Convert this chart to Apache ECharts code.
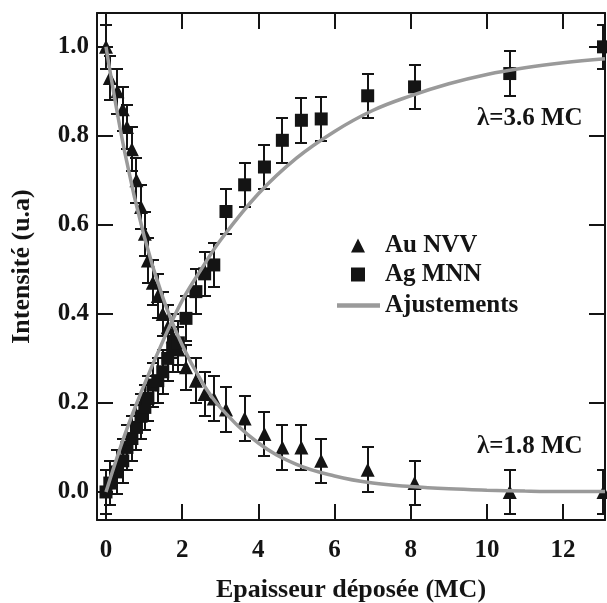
<!DOCTYPE html>
<html>
<head>
<meta charset="utf-8">
<script src="https://cdn.jsdelivr.net/npm/echarts@6/dist/echarts.min.js"></script>
<style>
html,body{margin:0;padding:0;background:#fff;}
#chart{width:607px;height:603px;}
</style>
</head>
<body>
<div id="chart"></div>
<script>
// Deposited thickness (MC)
var thickness = [0.00, 0.10, 0.30, 0.44, 0.55, 0.68, 0.80, 0.92, 1.02, 1.10, 1.23, 1.36, 1.49, 1.62, 1.75, 1.90, 2.10, 2.36, 2.59, 2.83, 3.15, 3.64, 4.16, 4.63, 5.13, 5.65, 6.87, 8.10, 10.60, 13.06];
var auNVV = [1.00, 0.93, 0.90, 0.86, 0.82, 0.77, 0.70, 0.64, 0.58, 0.52, 0.47, 0.44, 0.40, 0.37, 0.35, 0.32, 0.28, 0.25, 0.22, 0.21, 0.185, 0.165, 0.13, 0.10, 0.10, 0.07, 0.05, 0.02, 0.00, 0.00];
var auErr = [0.05, 0.05, 0.05, 0.05, 0.05, 0.05, 0.05, 0.05, 0.05, 0.05, 0.05, 0.05, 0.05, 0.05, 0.05, 0.05, 0.05, 0.05, 0.05, 0.05, 0.05, 0.05, 0.05, 0.05, 0.05, 0.05, 0.05, 0.05, 0.05, 0.05];
var agMNN = [0.00, 0.02, 0.045, 0.07, 0.10, 0.12, 0.145, 0.17, 0.19, 0.21, 0.24, 0.25, 0.27, 0.30, 0.32, 0.335, 0.39, 0.45, 0.49, 0.51, 0.63, 0.69, 0.73, 0.79, 0.835, 0.838, 0.89, 0.91, 0.94, 1.00];
var agErr = [0.05, 0.05, 0.05, 0.05, 0.05, 0.05, 0.05, 0.05, 0.05, 0.05, 0.05, 0.05, 0.05, 0.05, 0.05, 0.05, 0.05, 0.05, 0.05, 0.05, 0.05, 0.05, 0.05, 0.05, 0.05, 0.05, 0.05, 0.05, 0.05, 0.05];
// Fitted curves
var fitX = [0, 0.5, 1, 1.5, 2, 2.5, 3, 4, 5, 6, 7, 8, 9, 10, 11, 12, 13.1];
var fitAu = [1.00, 0.76, 0.575, 0.435, 0.33, 0.25, 0.19, 0.11, 0.062, 0.036, 0.02, 0.012, 0.007, 0.004, 0.002, 0.001, 0.001];
var fitAg = [0.00, 0.13, 0.24, 0.34, 0.43, 0.50, 0.565, 0.67, 0.75, 0.81, 0.857, 0.89, 0.917, 0.938, 0.953, 0.964, 0.973];
var xTicks = [0, 2, 4, 6, 8, 10, 12];
var yTicks = [0, 0.2, 0.4, 0.6, 0.8, 1.0];
var xTitle = 'Epaisseur déposée (MC)';
var yTitle = 'Intensité (u.a)';
var lambdaAg = 'λ=3.6 MC';
var lambdaAu = 'λ=1.8 MC';

var FONT = '"Liberation Serif", "Times New Roman", serif';
var INK = '#141414';
var FIT = '#9a9a9a';

function zip3(a, b, c) { return a.map(function (v, i) { return [v, b[i], c ? c[i] : 0]; }); }
function zip2(a, b) { return a.map(function (v, i) { return [v, b[i]]; }); }

function errRender(params, api) {
  var x = api.value(0), y = api.value(1), e = api.value(2);
  var t = api.coord([x, y + e]), b = api.coord([x, y - e]);
  var cx = Math.round(t[0]);
  var ty = Math.round(t[1]), by = Math.round(b[1]);
  var hw = 6;
  var st = { stroke: INK, lineWidth: 2 };
  return {
    type: 'group',
    children: [
      { type: 'line', shape: { x1: cx, y1: ty, x2: cx, y2: by }, style: st },
      { type: 'line', shape: { x1: cx - hw, y1: ty, x2: cx + hw, y2: ty }, style: st },
      { type: 'line', shape: { x1: cx - hw, y1: by, x2: cx + hw, y2: by }, style: st }
    ]
  };
}

var axisLineStyle = { color: INK, width: 2 };
var tickBase = { show: true, inside: true, length: 16, lineStyle: { color: INK, width: 2 } };
var labelBase = { fontFamily: FONT, fontWeight: 'bold', fontSize: 25, color: INK };
var titleStyle = { fontFamily: FONT, fontWeight: 'bold', fontSize: 26, color: INK };
var legendText = { fontFamily: FONT, fontWeight: 'bold', fontSize: 25, color: INK };

var chart = echarts.init(document.getElementById('chart'), null, { renderer: 'canvas' });
chart.setOption({
  animation: false,
  backgroundColor: '#fff',
  grid: { left: 97, top: 13, right: 2, bottom: 83, containLabel: false, outerBoundsMode: 'none' },
  xAxis: [
    {
      type: 'value', min: -0.236, max: 13.1, position: 'bottom',
      axisLine: { show: true, onZero: false, lineStyle: axisLineStyle },
      axisTick: Object.assign({ customValues: xTicks }, tickBase),
      axisLabel: Object.assign({ customValues: xTicks, margin: 18 }, labelBase),
      splitLine: { show: false },
      name: xTitle, nameLocation: 'middle', nameGap: 57,
      nameTextStyle: titleStyle
    },
    {
      type: 'value', min: -0.236, max: 13.1, position: 'top',
      axisLine: { show: true, onZero: false, lineStyle: axisLineStyle },
      axisTick: Object.assign({ customValues: xTicks }, tickBase),
      axisLabel: { show: false },
      splitLine: { show: false }
    }
  ],
  yAxis: [
    {
      type: 'value', min: -0.063, max: 1.076, position: 'left',
      axisLine: { show: true, onZero: false, lineStyle: axisLineStyle },
      axisTick: Object.assign({ customValues: yTicks }, tickBase),
      axisLabel: Object.assign({ customValues: yTicks, margin: 8, formatter: function (v) { return v.toFixed(1); } }, labelBase),
      splitLine: { show: false },
      name: yTitle, nameLocation: 'middle', nameGap: 62, nameRotate: 90,
      nameTextStyle: titleStyle
    },
    {
      type: 'value', min: -0.063, max: 1.076, position: 'right',
      axisLine: { show: true, onZero: false, lineStyle: axisLineStyle },
      axisTick: Object.assign({ customValues: yTicks }, tickBase),
      axisLabel: { show: false },
      splitLine: { show: false }
    }
  ],
  legend: [
    {
      orient: 'vertical', left: 346, top: 228,
      itemWidth: 14, itemHeight: 14, itemGap: 4,
      textStyle: Object.assign({ padding: [0, 0, 0, 15] }, legendText),
      data: [
        { name: 'Au NVV', icon: 'triangle', itemStyle: { color: INK, opacity: 1 } },
        { name: 'Ag MNN', icon: 'rect', itemStyle: { color: INK, opacity: 1 } }
      ]
    },
    {
      orient: 'vertical', left: 332, top: 288,
      itemWidth: 43, itemHeight: 14,
      textStyle: legendText,
      data: [
        { name: 'Ajustements', icon: 'path://M0,0 L40,0 L40,4 L0,4 Z', itemStyle: { color: FIT } }
      ]
    }
  ],
  graphic: [
    { type: 'text', left: 477, top: 106, style: { text: lambdaAg, font: 'bold 25px ' + FONT, fill: INK } },
    { type: 'text', left: 477, top: 434, style: { text: lambdaAu, font: 'bold 25px ' + FONT, fill: INK } }
  ],
  series: [
    { type: 'custom', name: 'errAu', renderItem: errRender, data: zip3(thickness, auNVV, auErr), z: 2, silent: true, clip: true, encode: { x: 0, y: 1 } },
    { type: 'custom', name: 'errAg', renderItem: errRender, data: zip3(thickness, agMNN, agErr), z: 2, silent: true, clip: true, encode: { x: 0, y: 1 } },
    { type: 'scatter', name: 'Au NVV', symbol: 'triangle', symbolSize: 14, itemStyle: { color: INK, opacity: 1 }, data: zip2(thickness, auNVV), z: 3 },
    { type: 'scatter', name: 'Ag MNN', symbol: 'rect', symbolSize: 13, itemStyle: { color: INK, opacity: 1 }, data: zip2(thickness, agMNN), z: 3 },
    { type: 'line', name: 'Ajustements', smooth: 0.4, showSymbol: false, lineStyle: { color: FIT, width: 3.5 }, itemStyle: { color: FIT }, data: zip2(fitX, fitAu), z: 4 },
    { type: 'line', name: 'Ajustements', smooth: 0.4, showSymbol: false, lineStyle: { color: FIT, width: 3.5 }, itemStyle: { color: FIT }, data: zip2(fitX, fitAg), z: 4 }
  ]
});
</script>
</body>
</html>
